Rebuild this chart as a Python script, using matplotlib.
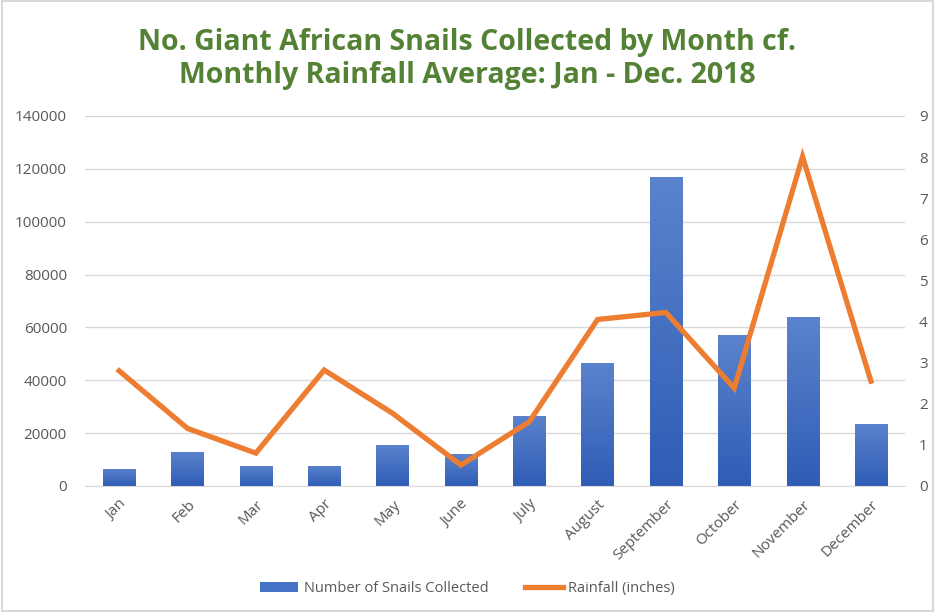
import numpy as np
import matplotlib.pyplot as plt
from matplotlib.patches import Rectangle
from matplotlib.colors import LinearSegmentedColormap

# data
months = ['Jan', 'Feb', 'Mar', 'Apr', 'May', 'June', 'July', 'August',
          'September', 'October', 'November', 'December']
snails = [6300, 13000, 7700, 7700, 15500, 12000, 26600, 46400,
          116800, 57100, 63900, 23500]
rainfall = [2.80, 1.40, 0.80, 2.82, 1.77, 0.51, 1.56, 4.05,
            4.22, 2.38, 8.01, 2.55]
left_ticks = np.arange(0, 140001, 20000)
right_ticks = np.arange(0, 10, 1)

GRAY = '#595959'
GRID = '#D9D9D9'
BLUE = '#4472C4'
ORANGE = '#ED7D31'
GREEN = '#548235'

plt.rcParams['font.family'] = ['Open Sans', 'DejaVu Sans']

fig = plt.figure(figsize=(9.35, 6.12), dpi=100)
ax = fig.add_axes([0.0909, 0.2059, 0.968 - 0.0909, 0.8105 - 0.2059])

x = np.arange(len(months))
w = 0.47

# bars with a vertical gradient (lighter on top)
grad = np.linspace(0, 1, 256).reshape(-1, 1)
cmap = LinearSegmentedColormap.from_list('bl', ['#2F5DB5', '#5B82CD'])
bars = ax.bar(x, snails, width=w, color=BLUE, zorder=2, label='Number of Snails Collected')
for b in bars:
    bx, by = b.get_x(), b.get_y()
    bw, bh = b.get_width(), b.get_height()
    im = ax.imshow(grad, extent=[bx, bx + bw, by, by + bh], origin='lower',
                   aspect='auto', cmap=cmap, zorder=2.1)
    im.set_clip_path(b)

ax.set_xlim(-0.5, len(months) - 0.5)
ax.set_ylim(0, 140000)
ax.set_yticks(left_ticks)
ax.set_yticklabels([str(v) for v in left_ticks])
ax.set_xticks(x)
ax.set_xticklabels(months, rotation=45, ha='right', rotation_mode='anchor')
ax.grid(axis='y', color=GRID, linewidth=1, zorder=0)
ax.set_axisbelow(True)
for s in ['top', 'left', 'right']:
    ax.spines[s].set_visible(False)
ax.spines['bottom'].set_color(GRID)
ax.tick_params(axis='both', length=0, colors=GRAY, labelsize=11)
ax.tick_params(axis='y', pad=13)
ax.tick_params(axis='x', pad=8)

ax2 = ax.twinx()
ax2.plot(x, rainfall, color=ORANGE, linewidth=3.8, solid_joinstyle='miter',
         zorder=3, label='Rainfall (inches)')
ax2.set_ylim(0, 9)
ax2.set_yticks(right_ticks)
for s in ['top', 'left', 'right', 'bottom']:
    ax2.spines[s].set_visible(False)
ax2.tick_params(axis='y', length=0, colors=GRAY, labelsize=11, pad=10)

fig.text(0.5, 0.931, 'No. Giant African Snails Collected by Month cf.',
         ha='center', va='center', fontsize=20.5, fontweight='bold', color=GREEN)
fig.text(0.5, 0.876, 'Monthly Rainfall Average: Jan - Dec. 2018',
         ha='center', va='center', fontsize=20.5, fontweight='bold', color=GREEN)

h1, l1 = ax.get_legend_handles_labels()
h2, l2 = ax2.get_legend_handles_labels()
fig.legend(h1 + h2, l1 + l2, loc='center', bbox_to_anchor=(0.5, 0.038), ncol=2,
           frameon=False, fontsize=10.5, labelcolor=GRAY, handlelength=2.6,
           handleheight=0.6, columnspacing=2.5, handletextpad=0.4)

fig.patches.append(Rectangle((0.002, 0.002), 0.996, 0.996, transform=fig.transFigure,
                             fill=False, edgecolor=GRID, linewidth=1.5))

fig.savefig('out.png', dpi=100)
